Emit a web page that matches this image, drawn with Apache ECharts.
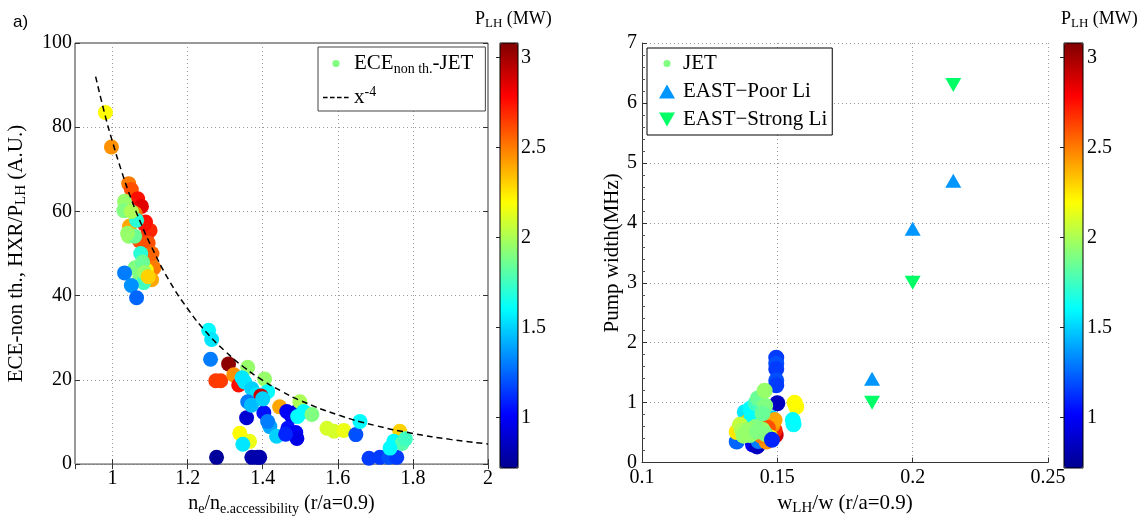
<!DOCTYPE html>
<html><head><meta charset="utf-8">
<script src="https://cdn.jsdelivr.net/npm/echarts@6/dist/echarts.min.js"></script>
<style>html,body{margin:0;padding:0;background:#fff}#c{width:1141px;height:521px}</style>
</head><body><div id="c"></div><script>
// ---- Left panel: ECE non-thermal JET data (x, y, P_LH in MW)
const eceX = [0.981,0.997,1.043,1.050,1.067,1.077,1.088,1.060,1.045,1.072,1.090,1.092,1.099,1.110,1.104,1.090,
  1.100,1.095,1.105,1.085,
  1.032,1.030,1.064,1.043,1.059,1.075,1.077,1.060,1.032,1.072,1.083,1.050,1.064,1.080,1.085,1.095,1.050,1.040,
  1.256,1.264,1.261,1.309,1.275,1.288,1.323,1.336,1.360,1.405,1.352,1.371,1.384,1.413,1.395,1.360,1.403,1.357,
  1.445,1.419,1.437,1.413,1.339,1.365,1.347,1.277,1.371,1.386,1.392,1.464,1.477,1.491,1.499,1.509,1.493,1.531,
  1.467,1.488,1.491,1.461,1.571,1.590,1.616,1.648,1.659,1.683,1.712,1.736,1.757,1.765,1.749,1.771,1.739,1.780,
  1.345,1.370,1.400];
const eceY = [83.5,75.3,66.6,65.2,63.0,61.2,57.5,59.5,56.5,53.0,54.1,51.0,48.5,46.6,43.8,46.1,
  55.5,52.5,50.0,57.0,
  62.4,60.2,57.9,54.1,54.1,50.0,47.5,46.6,45.4,44.2,43.1,42.4,39.5,48.0,45.5,44.5,60.0,54.8,
  31.8,29.6,24.9,23.8,19.8,19.8,21.2,18.8,23.0,20.2,19.5,17.9,16.5,17.2,16.2,14.8,12.2,11.0,
  13.6,8.9,6.6,10.1,7.3,5.4,4.7,1.6,1.6,1.6,1.6,12.5,11.3,12.5,14.8,12.5,11.3,11.8,
  8.5,7.5,6.1,7.1,8.5,7.8,8.0,7.0,10.1,1.4,1.6,1.6,1.6,7.8,5.4,4.9,3.8,6.0,
  20.5,14.0,15.5];
const eceP = [2.2,2.45,2.5,2.6,2.75,2.85,2.75,2.5,2.4,2.6,2.65,2.6,2.5,2.5,2.4,2.2,
  2.7,2.6,2.55,2.75,
  1.95,1.9,1.7,1.95,1.85,1.7,1.95,1.9,1.3,1.9,1.75,1.35,1.25,1.85,1.95,2.3,2.0,1.95,
  1.6,1.55,1.3,3.05,2.65,2.65,2.45,2.75,1.95,1.95,1.55,1.5,1.55,1.6,2.9,1.3,1.05,0.9,
  2.4,1.4,1.5,1.3,2.2,2.15,1.55,0.75,0.8,0.8,0.8,1.0,1.0,0.95,2.0,1.6,1.6,1.9,
  1.05,1.0,0.95,1.1,2.1,2.1,2.15,1.2,1.6,1.15,1.15,1.2,1.15,2.3,1.6,1.8,1.6,1.75,
  1.55,1.45,1.5];
// x^-4 reference curve
const fitX = [0.955,0.98,1.0,1.025,1.05,1.075,1.1,1.15,1.2,1.25,1.3,1.35,1.4,1.45,1.5,1.6,1.7,1.8,1.9,2.0];
const fitY = [92.0,82.9,76.5,69.3,62.9,57.3,52.3,43.7,36.9,31.3,26.8,23.0,19.9,17.3,15.1,11.7,9.16,7.29,5.87,4.78];

// ---- Right panel: JET pump width
const jetX = [0.1496,0.1496,0.1496,0.1496,0.1496,0.1500,0.1564,0.1570,0.1557,0.1560,0.1350,0.1410,0.1425,
  0.1430,0.1480,0.1470,0.1494,0.1490,0.1483,0.1460,0.1440,0.1450,0.1435,0.1480,0.1490,0.1380,0.1400,0.1350,
  0.1390,0.1415,0.1440,0.1465,0.1475,0.1405,
  0.1362,0.1370,0.1387,0.1398,0.1375,0.1420,0.1445,0.1420,0.1428,0.1455,0.1410,0.1455,0.1395,0.1425,0.1445,0.1453,0.1480];
const jetY = [1.75,1.65,1.56,1.37,1.29,0.99,1.00,0.93,0.71,0.64,0.35,0.30,0.27,
  0.36,0.51,0.45,0.46,0.54,0.63,0.35,0.45,0.68,0.76,0.74,0.71,0.84,0.90,0.51,
  0.68,0.62,0.60,0.58,0.42,0.75,
  0.63,0.54,0.51,0.46,0.45,0.99,0.55,0.60,1.07,0.95,0.50,0.48,0.55,0.52,0.82,1.20,0.38];
const jetP = [1.15,1.2,1.15,1.2,1.15,0.85,2.2,2.2,1.6,1.6,1.25,1.0,0.85,
  1.3,1.0,0.9,2.9,2.7,2.45,2.45,2.5,2.4,2.3,1.5,2.4,1.55,1.6,2.25,
  2.35,2.45,2.3,2.6,2.2,1.6,
  2.05,2.0,1.95,1.9,1.95,1.75,1.95,1.9,1.85,1.9,1.95,1.9,1.95,1.9,1.85,1.95,1.1];
const eastX = [0.185,0.2,0.215];
const poorLiY = [1.4,3.9,4.7];
const strongLiY = [1.0,3.0,6.3];

// colour bar
const pMin = 0.72, pMax = 3.08;
const cbarTicks = [1,1.5,2,2.5,3];
const jet = ['#00008f','#0000ff','#0080ff','#00ffff','#80ff80','#ffff00','#ff8000','#ff0000','#800000'];

const FF = 'Liberation Serif';
function mk(size, subSize){
  return {
    n:{fontFamily:FF, fontSize:size, fontWeight:'normal', color:'#000'},
    sub:{fontFamily:FF, fontSize:subSize, fontWeight:'normal', color:'#000', padding:[Math.round(size*0.5),0,0,0], verticalAlign:'bottom'},
    sup:{fontFamily:FF, fontSize:subSize, fontWeight:'normal', color:'#000', padding:[0,0,Math.round(size*0.5),0], verticalAlign:'top'}
  };
}
const richAxis = mk(21, 15);
const richXL = mk(20, 14);
const richLeg = mk(21, 14);
const richCb = mk(18, 13);

const grid = {type:[1,3], color:'#9a9a9a', width:1};
const tick = {show:true, inside:true, length:5, lineStyle:{color:'#333'}};
const lab = {fontFamily:FF, fontSize:20, color:'#000'};

const dotIcon = 'path://M0 0M26 20M9.4 10A3.6 3.6 0 1 1 16.6 10A3.6 3.6 0 1 1 9.4 10Z';
const dashIcon = 'path://M0 0M26 20M0 9.3h4.6v1.5h-4.6zM7 9.3h4.6v1.5h-4.6zM14 9.3h4.6v1.5h-4.6zM21 9.3h4.6v1.5h-4.6z';
const dotIcon2 = 'path://M0 0M22 20M7.4 10A3.6 3.6 0 1 1 14.6 10A3.6 3.6 0 1 1 7.4 10Z';
const upIcon = 'path://M0 0M22 20M3 17L11 3L19 17Z';
const downIcon = 'path://M0 0M22 20M3 3L19 3L11 17Z';

const chart = echarts.init(document.getElementById('c'), null, {renderer:'canvas'});
chart.setOption({
  animation:false,
  backgroundColor:'#fff',
  title:[
    {text:'a)', left:8, top:9, textStyle:{fontFamily:'Liberation Sans', fontSize:17, fontWeight:'normal', color:'#000'}},
    {text:'{n|P}{sub|LH}{n| (MW)}', left:470, top:3, textStyle:{fontWeight:'normal', rich:richCb}},
    {text:'{n|P}{sub|LH}{n| (MW)}', left:1056, top:3, textStyle:{fontWeight:'normal', rich:richCb}}
  ],
  grid:[
    {left:75, top:43, width:413, height:425, show:true, borderColor:'#333', borderWidth:1, backgroundColor:'transparent'},
    {left:642, top:43, width:406, height:425},
    {left:500, top:43, width:18, height:425, show:true, borderColor:'#000', borderWidth:1, backgroundColor:'transparent', z:10},
    {left:1064, top:43, width:19, height:425, show:true, borderColor:'#000', borderWidth:1, backgroundColor:'transparent', z:10}
  ],
  xAxis:[
    {gridIndex:0, type:'value', min:0.9, max:2, axisLine:{show:false}, axisTick:tick,
     axisLabel:Object.assign({margin:5, showMinLabel:false}, lab),
     splitLine:{show:true, lineStyle:grid},
     name:'{n|n}{sub|e}{n|/n}{sub|e.accessibility}{n| (r/a=0.9)}', nameLocation:'middle', nameGap:20,
     nameTextStyle:{rich:richXL}},
    {gridIndex:0, type:'value', min:0.9, max:2, position:'top', axisLine:{show:false}, axisTick:tick,
     axisLabel:{show:false}, splitLine:{show:false}},
    {gridIndex:1, type:'value', min:0.1, max:0.25, interval:0.05, axisLine:{show:true, lineStyle:{color:'#333'}}, axisTick:tick,
     axisLabel:Object.assign({margin:5}, lab),
     splitLine:{show:true, lineStyle:grid},
     name:'{n|w}{sub|LH}{n|/w (r/a=0.9)}', nameLocation:'middle', nameGap:22, nameTextStyle:{rich:richAxis}},
    {gridIndex:2, type:'value', min:0, max:1, show:false},
    {gridIndex:3, type:'value', min:0, max:1, show:false}
  ],
  yAxis:[
    {gridIndex:0, type:'value', min:0, max:100, interval:20, axisLine:{show:false}, axisTick:tick,
     axisLabel:Object.assign({margin:3}, lab),
     splitLine:{show:true, lineStyle:grid},
     name:'{n|ECE-non th., HXR/P}{sub|LH}{n| (A.U.)}', nameLocation:'middle', nameGap:46, nameTextStyle:{rich:richAxis}},
    {gridIndex:0, type:'value', min:0, max:100, interval:20, position:'right', axisLine:{show:false}, axisTick:tick,
     axisLabel:{show:false}, splitLine:{show:false}},
    {gridIndex:1, type:'value', min:0, max:7, interval:1, axisLine:{show:true, lineStyle:{color:'#333'}}, axisTick:tick,
     minorTick:{show:true, splitNumber:5, length:3, lineStyle:{color:'#555'}},
     axisLabel:Object.assign({margin:5}, lab),
     splitLine:{show:true, lineStyle:grid},
     name:'Pump width(MHz)', nameLocation:'middle', nameGap:14, nameTextStyle:{fontFamily:FF, fontSize:21, color:'#000'}},
    {gridIndex:2, type:'value', min:pMin, max:pMax, position:'right', z:12, axisLine:{show:false},
     axisTick:{show:true, inside:true, length:4, customValues:cbarTicks, lineStyle:{color:'#222'}},
     axisLabel:Object.assign({margin:3, customValues:cbarTicks}, lab), splitLine:{show:false}},
    {gridIndex:3, type:'value', min:pMin, max:pMax, position:'right', z:12, axisLine:{show:false},
     axisTick:{show:true, inside:true, length:4, customValues:cbarTicks, lineStyle:{color:'#222'}},
     axisLabel:Object.assign({margin:4, customValues:cbarTicks}, lab), splitLine:{show:false}}
  ],
  visualMap:[
    {type:'continuous', seriesIndex:0, dimension:2, min:pMin, max:pMax, calculable:false, hoverLink:false,
     left:500, top:43, itemWidth:18, itemHeight:425, padding:0, inRange:{color:jet}},
    {type:'continuous', seriesIndex:2, dimension:2, min:pMin, max:pMax, calculable:false, hoverLink:false,
     left:1064, top:43, itemWidth:19, itemHeight:425, padding:0, inRange:{color:jet}}
  ],
  legend:[
    {data:[{name:'ECE', icon:dotIcon, itemStyle:{color:'#80ff80'}}, {name:'x^-4', icon:dashIcon, itemStyle:{color:'#000'}}],
     orient:'vertical', left:318, top:47, itemWidth:26, itemHeight:20, itemGap:9,
     padding:[6,12,3,5], borderColor:'#444', borderWidth:1, backgroundColor:'#fff',
     textStyle:{fontFamily:FF, fontSize:21, color:'#000', rich:richLeg},
     formatter:function(n){ return n==='ECE' ? '{n|ECE}{sub|non th.}{n|-JET}' : '{n|x}{sup|-4}'; }},
    {data:[{name:'JET', icon:dotIcon2, itemStyle:{color:'#80ff80'}},
           {name:'EAST\u2212Poor Li', icon:upIcon},
           {name:'EAST\u2212Strong Li', icon:downIcon}],
     orient:'vertical', left:647, top:48, itemWidth:22, itemHeight:20, itemGap:7,
     padding:[5,5,5,9], borderColor:'#000', borderWidth:1, backgroundColor:'#fff',
     textStyle:{fontFamily:FF, fontSize:21, color:'#000'}}
  ],
  series:[
    {name:'ECE', type:'scatter', xAxisIndex:0, yAxisIndex:0, symbolSize:15,
     itemStyle:{color:'#80ff80', opacity:1},
     data:eceX.map(function(x,i){return [x, eceY[i], eceP[i]];})},
    {name:'x^-4', type:'line', xAxisIndex:0, yAxisIndex:0, symbol:'none', smooth:true, z:5,
     lineStyle:{color:'#000', width:1.5, type:[6,4]}, itemStyle:{color:'#000'},
     data:fitX.map(function(x,i){return [x, fitY[i]];})},
    {name:'JET', type:'scatter', xAxisIndex:2, yAxisIndex:2, symbolSize:16,
     itemStyle:{color:'#80ff80', opacity:1},
     data:jetX.map(function(x,i){return [x, jetY[i], jetP[i]];})},
    {name:'EAST\u2212Poor Li', type:'scatter', xAxisIndex:2, yAxisIndex:2, symbol:'triangle', symbolSize:[16,14],
     itemStyle:{color:'#0096ff', opacity:1},
     data:eastX.map(function(x,i){return [x, poorLiY[i]];})},
    {name:'EAST\u2212Strong Li', type:'scatter', xAxisIndex:2, yAxisIndex:2, symbol:'triangle', symbolRotate:180, symbolSize:[16,14],
     itemStyle:{color:'#00ff66', opacity:1},
     data:eastX.map(function(x,i){return [x, strongLiY[i]];})}
  ]
});
</script></body></html>
